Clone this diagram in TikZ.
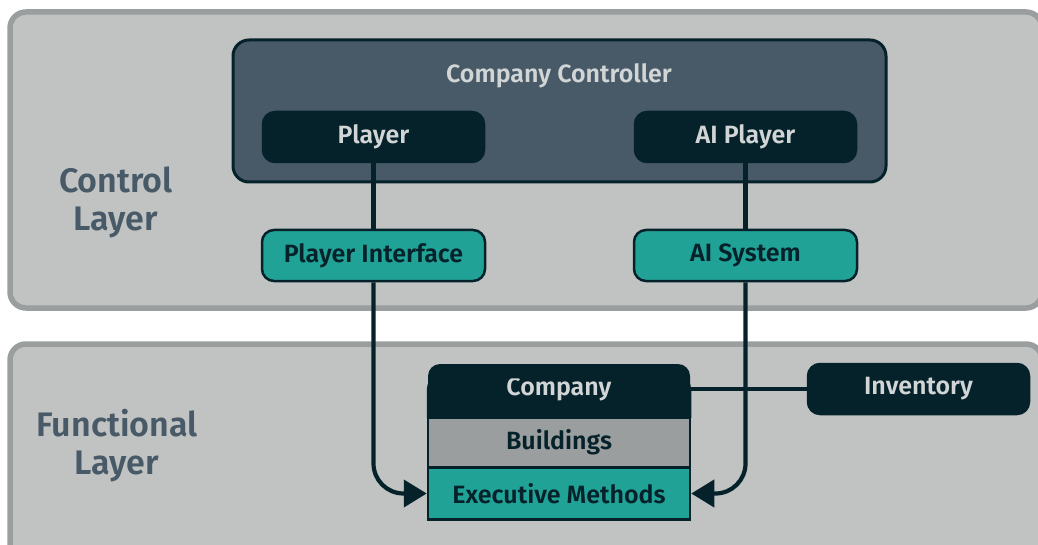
\documentclass[tikz,border=0pt]{standalone}
\usepackage{fontspec}
\setmainfont{Fira Sans}[BoldFont={* SemiBold}]
\usetikzlibrary{arrows.meta}

\definecolor{layerfill}{HTML}{C1C3C2}
\definecolor{layerline}{HTML}{9A9E9F}
\definecolor{ctrlfill}{HTML}{485A67}
\definecolor{ink}{HTML}{05222B}
\definecolor{teal}{HTML}{21A296}
\definecolor{stone}{HTML}{9A9E9F}
\definecolor{pale}{HTML}{D2D5D5}

\tikzset{
  boxfont/.style={font=\fontsize{25}{30}\selectfont\bfseries},
  layer/.style={fill=layerfill, draw=layerline, line width=5.5pt, rounded corners=16pt},
  layerlabel/.style={text=ctrlfill, font=\fontsize{34}{38}\selectfont\bfseries, align=center},
  darkbox/.style={fill=ink, draw=ink, line width=2.5pt, rounded corners=12pt,
    minimum width=221pt, minimum height=50pt, text=pale, boxfont, inner sep=0pt},
  tealbox/.style={fill=teal, draw=ink, line width=2.5pt, rounded corners=12pt,
    minimum width=223pt, minimum height=51pt, text=ink, boxfont, inner sep=0pt},
  slab/.style={draw=ink, line width=2.5pt, minimum width=262pt, inner sep=0pt, boxfont},
  wire/.style={draw=ink, line width=4.2pt},
  flow/.style={wire, rounded corners=30pt, -{Triangle[length=23pt,width=27pt]}},
}

\begin{document}
\begin{tikzpicture}[x=1pt, y=-1pt]
\useasboundingbox (0,0) rectangle (1038,545);
\clip (0,0) rectangle (1038,545);

% layers
\draw[layer] (10,12) rectangle (1042,308);
\draw[layer] (10,344) rectangle (1042,560);
\node[layerlabel] (ctrllabel) at (116,202) {Control\\Layer};
\node[layerlabel] (funclabel) at (117,446) {Functional\\Layer};

% company controller
\draw[fill=ctrlfill, draw=ink, line width=3pt, rounded corners=16pt] (233,40) rectangle (886,182);
\node[text=pale, boxfont] (cc) at (559,76) {Company Controller};
\node[darkbox] (player) at (373.5,137) {Player};
\node[darkbox] (aiplayer) at (745.5,137) {AI Player};

\node[tealbox] (pif) at (373.5,255.5) {Player Interface};
\node[tealbox] (ais) at (745.5,255.5) {AI System};

% company stack
\fill[ink, rounded corners=12pt] (428,364) rectangle (690,440);
\node[text=pale, boxfont, inner sep=0pt] (comp) at (559,389) {Company};
\node[slab, fill=stone, text=ink, minimum height=50pt] (bld) at (559,442.5) {Buildings};
\node[slab, fill=teal, text=ink, minimum height=52pt] (exm) at (559,493.5) {Executive Methods};
\coordinate (compw) at (428,418);
\coordinate (compe) at (690,418);
\draw[ink, line width=2.5pt, rounded corners=12pt] (compw) |- (comp.north) -| (compe);

\node[darkbox] (inv) at (918.5,389) {Inventory};

% connectors
\draw[wire] (comp.east -| compe) -- (inv.west);
\draw[wire] (player.south) -- (pif.north);
\draw[wire] (aiplayer.south) -- (ais.north);
\draw[flow] (pif.south) |- (exm.west);
\draw[flow] (ais.south) |- (exm.east);
\end{tikzpicture}
\end{document}
